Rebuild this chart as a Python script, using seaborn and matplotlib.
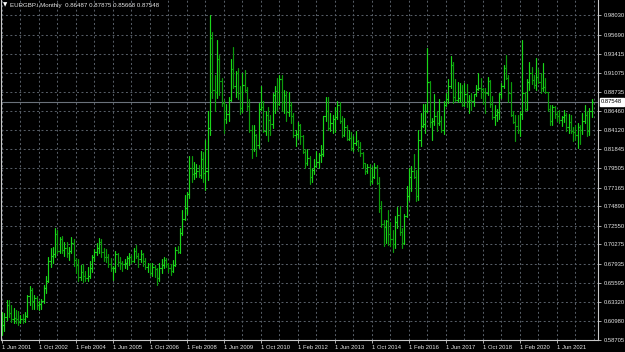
import numpy as np
import pandas as pd
import matplotlib
matplotlib.use("Agg")
import matplotlib.pyplot as plt
import seaborn as sns

symbol = "EURGBP.i,Monthly"
first_month = "2001-06"

# monthly OHLC, Jun 2001 .. Sep 2022
opens = [
    0.6035, 0.6050, 0.6150, 0.6300, 0.6200, 0.6130, 0.6140,                      # 2001 Jun-Dec
    0.6130, 0.6090, 0.6130, 0.6120, 0.6160, 0.6400, 0.6470, 0.6340, 0.6380, 0.6300, 0.6310, 0.6340,  # 2002
    0.6500, 0.6590, 0.6830, 0.6890, 0.6910, 0.7150, 0.6950, 0.7090, 0.6960, 0.6990, 0.6920, 0.6950,  # 2003
    0.7040, 0.6840, 0.6780, 0.6630, 0.6700, 0.6650, 0.6620, 0.6640, 0.6740, 0.6870, 0.6940, 0.6980,  # 2004
    0.7060, 0.6940, 0.6880, 0.6870, 0.6790, 0.6740, 0.6740, 0.6910, 0.6820, 0.6800, 0.6790, 0.6800,  # 2005
    0.6860, 0.6870, 0.6830, 0.6950, 0.6890, 0.6850, 0.6910, 0.6830, 0.6750, 0.6790, 0.6680, 0.6760,  # 2006
    0.6730, 0.6620, 0.6740, 0.6780, 0.6840, 0.6790, 0.6740, 0.6710, 0.6780, 0.6960, 0.6940, 0.7170,  # 2007
    0.7340, 0.7470, 0.7640, 0.7960, 0.7880, 0.7900, 0.7920, 0.7870, 0.8060, 0.7890, 0.7920, 0.8440,  # 2008
    0.9530, 0.8900, 0.8870, 0.9280, 0.9010, 0.8740, 0.8550, 0.8610, 0.8780, 0.9150, 0.8950, 0.9110,  # 2009
    0.8860, 0.8680, 0.8960, 0.8900, 0.8700, 0.8420, 0.8180, 0.8360, 0.8230, 0.8670, 0.8690, 0.8400,  # 2010
    0.8600, 0.8540, 0.8490, 0.8840, 0.8890, 0.8730, 0.9030, 0.8750, 0.8840, 0.8630, 0.8720, 0.8580,  # 2011
    0.8350, 0.8370, 0.8470, 0.8340, 0.8150, 0.8020, 0.8070, 0.7840, 0.7930, 0.7980, 0.8030, 0.8110,  # 2012
    0.8130, 0.8580, 0.8640, 0.8440, 0.8500, 0.8550, 0.8570, 0.8720, 0.8530, 0.8360, 0.8450, 0.8310,  # 2013
    0.8320, 0.8200, 0.8260, 0.8280, 0.8210, 0.8140, 0.8010, 0.7920, 0.7970, 0.7800, 0.7840, 0.7970,  # 2014
    0.7770, 0.7470, 0.7270, 0.7240, 0.7310, 0.7160, 0.7100, 0.7030, 0.7300, 0.7390, 0.7180, 0.7050,  # 2015
    0.7370, 0.7620, 0.7850, 0.7920, 0.7840, 0.7620, 0.8300, 0.8460, 0.8490, 0.8650, 0.9000, 0.8510,  # 2016
    0.8520, 0.8590, 0.8500, 0.8520, 0.8420, 0.8720, 0.8790, 0.8950, 0.9200, 0.8820, 0.8780, 0.8800,  # 2017
    0.8880, 0.8720, 0.8850, 0.8770, 0.8780, 0.8770, 0.8850, 0.8910, 0.8920, 0.8910, 0.8880, 0.8860,  # 2018
    0.9010, 0.8730, 0.8570, 0.8600, 0.8630, 0.8850, 0.8950, 0.9170, 0.9050, 0.8860, 0.8600, 0.8510,  # 2019
    0.8460, 0.8410, 0.8610, 0.8860, 0.8670, 0.9000, 0.9110, 0.9020, 0.8960, 0.9060, 0.9000, 0.8920,  # 2020
    0.8940, 0.8870, 0.8670, 0.8520, 0.8690, 0.8610, 0.8580, 0.8540, 0.8570, 0.8600, 0.8450, 0.8510,  # 2021
    0.8400, 0.8390, 0.8360, 0.8450, 0.8410, 0.8520, 0.8600, 0.8400, 0.86487,                          # 2022
]
highs = [
    0.6215, 0.6195, 0.6360, 0.6355, 0.6300, 0.6260, 0.6230,
    0.6220, 0.6170, 0.6180, 0.6210, 0.6420, 0.6530, 0.6500, 0.6420, 0.6400, 0.6340, 0.6370, 0.6540,
    0.6640, 0.6880, 0.6990, 0.7000, 0.7230, 0.7200, 0.7120, 0.7130, 0.7060, 0.7060, 0.7000, 0.7120,
    0.7100, 0.6860, 0.6850, 0.6780, 0.6790, 0.6710, 0.6760, 0.6830, 0.6900, 0.6970, 0.7050, 0.7110,
    0.7090, 0.6980, 0.6970, 0.6910, 0.6860, 0.6770, 0.6950, 0.6930, 0.6880, 0.6830, 0.6850, 0.6890,
    0.6920, 0.6900, 0.6980, 0.7020, 0.6930, 0.6960, 0.6930, 0.6860, 0.6800, 0.6800, 0.6800, 0.6780,
    0.6740, 0.6800, 0.6850, 0.6870, 0.6860, 0.6800, 0.6790, 0.6840, 0.7000, 0.7010, 0.7230, 0.7440,
    0.7630, 0.7660, 0.8100, 0.8100, 0.8030, 0.8000, 0.7990, 0.8160, 0.8150, 0.8300, 0.8650, 0.9803,
    0.9600, 0.9080, 0.9500, 0.9320, 0.9040, 0.8780, 0.8730, 0.8820, 0.9280, 0.9420, 0.9130, 0.9170,
    0.8950, 0.9110, 0.9140, 0.8940, 0.8790, 0.8470, 0.8470, 0.8370, 0.8740, 0.8950, 0.8770, 0.8640,
    0.8690, 0.8600, 0.8860, 0.8950, 0.9050, 0.9080, 0.9080, 0.8900, 0.8890, 0.8880, 0.8750, 0.8620,
    0.8410, 0.8510, 0.8490, 0.8350, 0.8190, 0.8180, 0.8100, 0.7960, 0.8060, 0.8160, 0.8140, 0.8230,
    0.8590, 0.8820, 0.8810, 0.8620, 0.8600, 0.8690, 0.8770, 0.8750, 0.8580, 0.8560, 0.8470, 0.8420,
    0.8390, 0.8340, 0.8400, 0.8300, 0.8270, 0.8150, 0.8020, 0.8000, 0.8000, 0.7970, 0.8010, 0.7990,
    0.7850, 0.7560, 0.7320, 0.7320, 0.7450, 0.7300, 0.7200, 0.7370, 0.7480, 0.7490, 0.7230, 0.7400,
    0.7740, 0.7950, 0.7980, 0.8120, 0.7930, 0.8420, 0.8620, 0.8730, 0.8730, 0.9415, 0.9010, 0.8560,
    0.8850, 0.8650, 0.8790, 0.8590, 0.8770, 0.8860, 0.9030, 0.9306, 0.9240, 0.9030, 0.9000, 0.8980,
    0.8960, 0.8990, 0.8970, 0.8840, 0.8860, 0.8850, 0.8960, 0.9100, 0.9050, 0.8930, 0.8930, 0.9060,
    0.9020, 0.8830, 0.8720, 0.8670, 0.8860, 0.8980, 0.9200, 0.9325, 0.9080, 0.9000, 0.8640, 0.8600,
    0.8600, 0.8640, 0.9500, 0.8870, 0.9030, 0.9240, 0.9180, 0.9080, 0.9290, 0.9150, 0.9100, 0.9230,
    0.9040, 0.8880, 0.8720, 0.8720, 0.8700, 0.8640, 0.8660, 0.8580, 0.8660, 0.8620, 0.8610, 0.8600,
    0.8450, 0.8480, 0.8500, 0.8470, 0.8620, 0.8720, 0.8640, 0.8680, 0.87875,
]
lows = [
    0.5925, 0.5985, 0.6110, 0.6150, 0.6090, 0.6080, 0.6080,
    0.6050, 0.6070, 0.6080, 0.6090, 0.6150, 0.6300, 0.6250, 0.6240, 0.6240, 0.6230, 0.6250, 0.6320,
    0.6440, 0.6570, 0.6750, 0.6800, 0.6880, 0.6930, 0.6920, 0.6920, 0.6890, 0.6880, 0.6840, 0.6930,
    0.6770, 0.6680, 0.6580, 0.6600, 0.6570, 0.6590, 0.6590, 0.6620, 0.6690, 0.6830, 0.6900, 0.6930,
    0.6880, 0.6830, 0.6820, 0.6760, 0.6710, 0.6600, 0.6690, 0.6770, 0.6730, 0.6710, 0.6740, 0.6730,
    0.6780, 0.6800, 0.6810, 0.6860, 0.6760, 0.6820, 0.6770, 0.6730, 0.6700, 0.6660, 0.6650, 0.6630,
    0.6540, 0.6590, 0.6680, 0.6740, 0.6760, 0.6690, 0.6660, 0.6690, 0.6770, 0.6920, 0.6920, 0.7140,
    0.7330, 0.7400, 0.7590, 0.7780, 0.7820, 0.7840, 0.7840, 0.7830, 0.7790, 0.7690, 0.7810, 0.8360,
    0.8800, 0.8650, 0.8800, 0.8840, 0.8700, 0.8380, 0.8500, 0.8520, 0.8770, 0.8930, 0.8810, 0.8790,
    0.8610, 0.8630, 0.8880, 0.8660, 0.8390, 0.8070, 0.8160, 0.8100, 0.8200, 0.8660, 0.8390, 0.8350,
    0.8280, 0.8360, 0.8440, 0.8620, 0.8660, 0.8720, 0.8650, 0.8620, 0.8530, 0.8580, 0.8500, 0.8330,
    0.8220, 0.8320, 0.8250, 0.8140, 0.7950, 0.7990, 0.7760, 0.7780, 0.7880, 0.7970, 0.7960, 0.8030,
    0.8100, 0.8530, 0.8420, 0.8400, 0.8380, 0.8390, 0.8550, 0.8500, 0.8330, 0.8340, 0.8300, 0.8290,
    0.8170, 0.8160, 0.8230, 0.8160, 0.8100, 0.7960, 0.7880, 0.7900, 0.7750, 0.7770, 0.7830, 0.7760,
    0.7420, 0.7240, 0.7010, 0.7050, 0.7020, 0.7010, 0.6940, 0.6990, 0.7230, 0.7140, 0.6990, 0.7030,
    0.7360, 0.7570, 0.7670, 0.7830, 0.7560, 0.7570, 0.8220, 0.8450, 0.8380, 0.8630, 0.8450, 0.8300,
    0.8470, 0.8400, 0.8480, 0.8390, 0.8370, 0.8700, 0.8740, 0.8930, 0.8740, 0.8770, 0.8760, 0.8750,
    0.8700, 0.8710, 0.8690, 0.8620, 0.8660, 0.8700, 0.8830, 0.8900, 0.8800, 0.8730, 0.8620, 0.8840,
    0.8690, 0.8550, 0.8470, 0.8530, 0.8550, 0.8800, 0.8920, 0.9030, 0.8760, 0.8590, 0.8500, 0.8277,
    0.8380, 0.8340, 0.8550, 0.8640, 0.8660, 0.8900, 0.8970, 0.8930, 0.8900, 0.8990, 0.8860, 0.8890,
    0.8860, 0.8640, 0.8470, 0.8470, 0.8560, 0.8530, 0.8500, 0.8460, 0.8510, 0.8400, 0.8380, 0.8380,
    0.8280, 0.8300, 0.8200, 0.8250, 0.8370, 0.8500, 0.8340, 0.8350, 0.85668,
]
closes = [
    0.6050, 0.6150, 0.6300, 0.6200, 0.6130, 0.6140, 0.6130,
    0.6090, 0.6130, 0.6120, 0.6160, 0.6400, 0.6470, 0.6340, 0.6380, 0.6300, 0.6310, 0.6340, 0.6500,
    0.6590, 0.6830, 0.6890, 0.6910, 0.7150, 0.6950, 0.7090, 0.6960, 0.6990, 0.6920, 0.6950, 0.7040,
    0.6840, 0.6780, 0.6630, 0.6700, 0.6650, 0.6620, 0.6640, 0.6740, 0.6870, 0.6940, 0.6980, 0.7060,
    0.6940, 0.6880, 0.6870, 0.6790, 0.6740, 0.6740, 0.6910, 0.6820, 0.6800, 0.6790, 0.6800, 0.6860,
    0.6870, 0.6830, 0.6950, 0.6890, 0.6850, 0.6910, 0.6830, 0.6750, 0.6790, 0.6680, 0.6760, 0.6730,
    0.6620, 0.6740, 0.6780, 0.6840, 0.6790, 0.6740, 0.6710, 0.6780, 0.6960, 0.6940, 0.7170, 0.7340,
    0.7470, 0.7640, 0.7960, 0.7880, 0.7900, 0.7920, 0.7870, 0.8060, 0.7890, 0.7920, 0.8440, 0.9530,
    0.8900, 0.8870, 0.9280, 0.9010, 0.8740, 0.8550, 0.8610, 0.8780, 0.9150, 0.8950, 0.9110, 0.8860,
    0.8680, 0.8960, 0.8900, 0.8700, 0.8420, 0.8180, 0.8360, 0.8230, 0.8670, 0.8690, 0.8400, 0.8600,
    0.8540, 0.8490, 0.8840, 0.8890, 0.8730, 0.9030, 0.8750, 0.8840, 0.8630, 0.8720, 0.8580, 0.8350,
    0.8370, 0.8470, 0.8340, 0.8150, 0.8020, 0.8070, 0.7840, 0.7930, 0.7980, 0.8030, 0.8110, 0.8130,
    0.8580, 0.8640, 0.8440, 0.8500, 0.8550, 0.8570, 0.8720, 0.8530, 0.8360, 0.8450, 0.8310, 0.8320,
    0.8200, 0.8260, 0.8280, 0.8210, 0.8140, 0.8010, 0.7920, 0.7970, 0.7800, 0.7840, 0.7970, 0.7770,
    0.7470, 0.7270, 0.7240, 0.7310, 0.7160, 0.7100, 0.7030, 0.7300, 0.7390, 0.7180, 0.7050, 0.7370,
    0.7620, 0.7850, 0.7920, 0.7840, 0.7620, 0.8300, 0.8460, 0.8490, 0.8650, 0.9000, 0.8510, 0.8520,
    0.8590, 0.8500, 0.8520, 0.8420, 0.8720, 0.8790, 0.8950, 0.9200, 0.8820, 0.8780, 0.8800, 0.8880,
    0.8720, 0.8850, 0.8770, 0.8780, 0.8770, 0.8850, 0.8910, 0.8920, 0.8910, 0.8880, 0.8860, 0.9010,
    0.8730, 0.8570, 0.8600, 0.8630, 0.8850, 0.8950, 0.9170, 0.9050, 0.8860, 0.8600, 0.8510, 0.8460,
    0.8410, 0.8610, 0.8860, 0.8670, 0.9000, 0.9110, 0.9020, 0.8960, 0.9060, 0.9000, 0.8920, 0.8940,
    0.8870, 0.8670, 0.8520, 0.8690, 0.8610, 0.8580, 0.8540, 0.8570, 0.8600, 0.8450, 0.8510, 0.8400,
    0.8390, 0.8360, 0.8450, 0.8410, 0.8520, 0.8600, 0.8400, 0.8649, 0.87548,
]

price_ticks = [0.98030, 0.95690, 0.93415, 0.91075, 0.88735, 0.86460, 0.84120, 0.81845, 0.79505,
               0.77165, 0.74890, 0.72550, 0.70275, 0.67935, 0.65595, 0.63320, 0.60980, 0.58705]
date_labels = ["1 Jun 2001", "1 Oct 2002", "1 Feb 2004", "1 Jun 2005", "1 Oct 2006", "1 Feb 2008",
               "1 Jun 2009", "1 Oct 2010", "1 Feb 2012", "1 Jun 2013", "1 Oct 2014", "1 Feb 2016",
               "1 Jun 2017", "1 Oct 2018", "1 Feb 2020", "1 Jun 2021"]

n = len(closes)
assert len(opens) == len(highs) == len(lows) == n

# month index of each date label
start = pd.Period(first_month, freq="M")
label_pos = [(pd.Period(pd.to_datetime(s, format="%d %b %Y"), freq="M") - start).n for s in date_labels]

# long-form table: each bar = high-low stroke + open tick (left) + close tick (right)
rows = []
for i in range(n):
    d = "up" if closes[i] >= opens[i] else "down"
    rows += [(f"v{i}", i, lows[i], d), (f"v{i}", i, highs[i], d),
             (f"o{i}", i - 0.45, opens[i], d), (f"o{i}", i, opens[i], d),
             (f"c{i}", i, closes[i], d), (f"c{i}", i + 0.45, closes[i], d)]
df = pd.DataFrame(rows, columns=["seg", "x", "price", "dir"])

sns.set_theme(style="dark", rc={
    "axes.facecolor": "black", "figure.facecolor": "black",
    "axes.edgecolor": "#c8c8c8", "text.color": "#e6e6e6",
    "xtick.color": "#c8c8c8", "ytick.color": "#c8c8c8",
    "lines.scale_dashes": False,
})
plt.rcParams["font.family"] = ["Liberation Sans", "DejaVu Sans"]

W, H = 625, 352
fig = plt.figure(figsize=(W / 100, H / 100), dpi=100, facecolor="black")
ax = fig.add_axes([1 / W, 12 / H, 597 / W, 340 / H])
ax.set_facecolor("black")

sns.lineplot(data=df, x="x", y="price", units="seg", estimator=None, hue="dir",
             palette={"up": "#1ad61a", "down": "#0c9c0c"}, sort=False, legend=False,
             linewidth=0.85, ax=ax)

ax.set_xlim(-0.432, 257.73)
ax.set_ylim(0.58700, 0.99907)

# current price line
ax.axhline(closes[-1], color="#6b727b", lw=0.8, zorder=1)

# grid
ax.set_xticks(label_pos)
ax.set_xticks(np.arange(0, n + 2, 8), minor=True)
ax.set_xticklabels(date_labels, ha="left")
ax.set_yticks(price_ticks)
ax.set_yticklabels([f"{p:.5f}" for p in price_ticks])
ax.set_axisbelow(True)
ax.grid(True, which="both", color="#565d66", linestyle=(0, (1.4, 1.8)), linewidth=0.75)

ax.yaxis.tick_right()
ax.tick_params(axis="y", which="major", right=True, left=False, length=2.5, width=0.6,
               labelsize=4.2, labelcolor="#e6e6e6", pad=1.5)
ax.tick_params(axis="x", which="major", bottom=True, length=2.5, width=0.6,
               labelsize=4.2, labelcolor="#e6e6e6", pad=1.2)
ax.tick_params(axis="x", which="minor", bottom=False, length=0)
ax.set_xlabel("")
ax.set_ylabel("")

for side in ["left", "right", "bottom"]:
    ax.spines[side].set_visible(True)
    ax.spines[side].set_color("#c8c8c8")
    ax.spines[side].set_linewidth(0.8)
ax.spines["top"].set_visible(False)

# current price tag
ax.annotate(f"{closes[-1]:.5f}", xy=(1, closes[-1]), xycoords=ax.get_yaxis_transform(),
            xytext=(2.2, 0), textcoords="offset points", ha="left", va="center",
            fontsize=4.2, color="black", annotation_clip=False,
            bbox=dict(boxstyle="square,pad=0.25", fc="white", ec="white"))

# header
fig.text(3 / W, 1 - 5 / H, "\u25bc", fontsize=4, color="white", va="center", ha="left",
         family=["DejaVu Sans"])
fig.text(10 / W, 1 - 5 / H,
         f"{symbol}  {opens[-1]:.5f} {highs[-1]:.5f} {lows[-1]:.5f} {closes[-1]:.5f}",
         fontsize=4.4, color="#e6e6e6", va="center", ha="left")

fig.savefig("out.png", dpi=100, facecolor="black")
